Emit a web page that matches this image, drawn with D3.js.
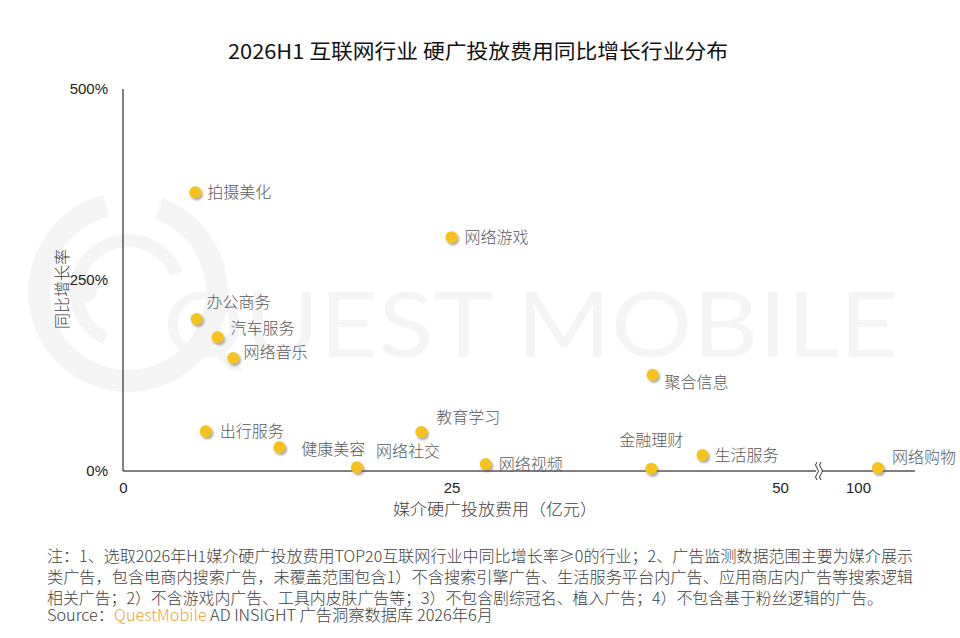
<!DOCTYPE html>
<html>
<head>
<meta charset="utf-8">
<script src="https://cdn.jsdelivr.net/npm/d3@7"></script>
<style>
  body { margin: 0; background: #fff; }
  svg { display: block; }
</style>
</head>
<body>
<div id="chart-area"></div>
<script>
// data
const industries = ['拍摄美化', '网络游戏', '办公商务', '汽车服务', '网络音乐', '聚合信息', '出行服务',
	'教育学习', '健康美容', '网络社交', '网络视频', '金融理财', '生活服务', '网络购物'];
const spend = [5.5, 25.0, 5.6, 7.2, 8.4, 40.3, 6.3, 22.7, 11.9, 17.8, 27.6, 40.2, 44.1, 101.5];
const growth = [365, 306, 199, 175, 148, 126, 52, 51, 31, 5, 9, 3, 21, 4];
const xTicks = [0, 25, 50, 100];
const yTicks = [0, 250, 500];

// label placement (offset from dot)
const labelOffset = {
	'拍摄美化': [12, 0], '网络游戏': [13, 0], '办公商务': [10, -17], '汽车服务': [13, -9],
	'网络音乐': [10, -6], '聚合信息': [12, 8], '出行服务': [14, 0], '教育学习': [15, -15],
	'健康美容': [22, 2], '网络社交': [19, -16], '网络视频': [13, 0], '金融理财': [-32, -28],
	'生活服务': [12, 0], '网络购物': [14, -11]
};

const svgWidth = 960, svgHeight = 638;
const margin = {left: 123, top: 89};
const areaWidth = 792, areaHeight = 382;
const cjk = '"Microsoft YaHei", "Noto Sans CJK SC", sans-serif';
const latin = '"Liberation Sans", Arial, sans-serif';

const svg = d3.select('#chart-area')
	.append('svg')
	.attr('width', svgWidth)
	.attr('height', svgHeight);

const defs = svg.append('defs');
const shadow = defs.append('filter').attr('id', 'shadow')
	.attr('x', '-50%').attr('y', '-50%').attr('width', '200%').attr('height', '200%');
shadow.append('feDropShadow')
	.attr('dx', 1.5).attr('dy', 2).attr('stdDeviation', 1.3)
	.attr('flood-color', '#555').attr('flood-opacity', 0.55);

// watermark
const wmColor = '#f4f4f4';
const wm = svg.append('g').attr('fill', wmColor);
wm.append('path')
	.attr('d', d3.arc()({innerRadius: 78, outerRadius: 100, startAngle: 0.35, endAngle: 2 * Math.PI - 0.25}))
	.attr('transform', 'translate(128,292)');
wm.append('path')
	.attr('d', d3.arc()({innerRadius: 45, outerRadius: 58, startAngle: 3.6, endAngle: 2 * Math.PI + 1.2}))
	.attr('transform', 'translate(128,292)');
wm.append('circle').attr('cx', 84).attr('cy', 290).attr('r', 13);
wm.append('text')
	.attr('x', 163).attr('y', 357)
	.attr('font-family', '"Lato", "Open Sans", sans-serif')
	.attr('font-size', 92)
	.attr('textLength', 735)
	.attr('lengthAdjust', 'spacingAndGlyphs')
	.text('QUEST MOBILE');

const area = svg.append('g')
	.attr('transform', `translate(${margin.left}, ${margin.top})`);

// broken x axis: 0-50 linear, then jump to 100
const x = d3.scaleLinear().domain([0, 50, 100, 104.3]).range([0, 657, 735, areaWidth]);
const y = d3.scaleLinear().domain([0, 500]).range([areaHeight, 0]);

// axes
const xAxisGroup = area.append('g')
	.attr('transform', `translate(0, ${areaHeight})`)
	.call(d3.axisBottom(x).tickValues(xTicks).tickSize(0).tickPadding(11));
xAxisGroup.select('.domain').attr('stroke', '#000').attr('d', `M0,0H${areaWidth}`);
xAxisGroup.selectAll('text')
	.attr('font-family', latin).attr('font-size', 15).attr('fill', '#222')
	.attr('dy', '0.71em');

const yAxisGroup = area.append('g')
	.call(d3.axisLeft(y).tickValues(yTicks).tickSize(0).tickPadding(15).tickFormat(d => `${d}%`));
yAxisGroup.select('.domain').attr('stroke', '#000').attr('d', `M0,0V${areaHeight}`);
yAxisGroup.selectAll('text')
	.attr('font-family', latin).attr('font-size', 15).attr('fill', '#222');

// axis break mark
const bx = (x(50) + x(100)) / 2;
const brk = area.append('g').attr('transform', `translate(${bx}, ${areaHeight})`);
brk.append('rect').attr('x', -3).attr('y', -2).attr('width', 6).attr('height', 4).attr('fill', '#fff');
[-2, 2].forEach(o => {
	brk.append('path')
		.attr('d', `M${o},-9 q-3,3 0,6 q3,3 0,6 q-3,3 0,6`)
		.attr('fill', 'none').attr('stroke', '#333').attr('stroke-width', 1);
});

// points
const points = area.selectAll('g.pt').data(industries).enter().append('g')
	.attr('class', 'pt')
	.attr('transform', (d, i) => `translate(${x(spend[i])}, ${y(growth[i])})`);

points.append('circle')
	.attr('r', 6)
	.attr('fill', '#F8C21B')
	.attr('filter', 'url(#shadow)');

points.append('text')
	.attr('x', d => labelOffset[d][0])
	.attr('y', d => labelOffset[d][1])
	.attr('dy', '0.35em')
	.attr('font-family', cjk)
	.attr('font-size', 16)
	.attr('font-weight', 300)
	.attr('fill', '#595959')
	.text(d => d);

// titles
svg.append('text')
	.attr('x', 478).attr('y', 52)
	.attr('dy', '0.35em')
	.attr('text-anchor', 'middle')
	.attr('font-family', cjk)
	.attr('font-size', 20)
	.attr('font-weight', 400)
	.attr('fill', '#111')
	.attr('textLength', 500)
	.attr('lengthAdjust', 'spacingAndGlyphs')
	.text('2026H1 互联网行业 硬广投放费用同比增长行业分布');

svg.append('text')
	.attr('transform', 'translate(62, 289) rotate(-90)')
	.attr('dy', '0.35em')
	.attr('text-anchor', 'middle')
	.attr('font-family', cjk)
	.attr('font-size', 16)
	.attr('font-weight', 300)
	.attr('fill', '#404040')
	.text('同比增长率');

svg.append('text')
	.attr('x', 495).attr('y', 509)
	.attr('dy', '0.35em')
	.attr('text-anchor', 'middle')
	.attr('font-family', cjk)
	.attr('font-size', 16)
	.attr('font-weight', 300)
	.attr('fill', '#404040')
	.attr('textLength', 204)
	.attr('lengthAdjust', 'spacingAndGlyphs')
	.text('媒介硬广投放费用（亿元）');

// footnote
const notes = [
	'注：1、选取2026年H1媒介硬广投放费用TOP20互联网行业中同比增长率≥0的行业；2、广告监测数据范围主要为媒介展示',
	'类广告，包含电商内搜索广告，未覆盖范围包含1）不含搜索引擎广告、生活服务平台内广告、应用商店内广告等搜索逻辑',
	'相关广告；2）不含游戏内广告、工具内皮肤广告等；3）不包含剧综冠名、植入广告；4）不包含基于粉丝逻辑的广告。'
];
const noteLen = [866, 866, 836];
notes.forEach((t, i) => {
	svg.append('text')
		.attr('x', 47).attr('y', 557 + i * 21)
		.attr('dy', '0.35em')
		.attr('font-family', cjk)
		.attr('font-size', 15.5)
		.attr('font-weight', 300)
		.attr('fill', '#404040')
		.attr('textLength', noteLen[i])
		.attr('lengthAdjust', 'spacingAndGlyphs')
		.text(t);
});
const src = svg.append('text')
	.attr('x', 47).attr('y', 616)
	.attr('dy', '0.35em')
	.attr('font-family', cjk)
	.attr('font-size', 15.5)
	.attr('font-weight', 300)
	.attr('fill', '#404040')
	.attr('textLength', 446)
	.attr('lengthAdjust', 'spacingAndGlyphs');
src.append('tspan').text('Source：');
src.append('tspan').attr('fill', '#F0A22E').text('QuestMobile');
src.append('tspan').text(' AD INSIGHT 广告洞察数据库 2026年6月');
</script>
</body>
</html>
